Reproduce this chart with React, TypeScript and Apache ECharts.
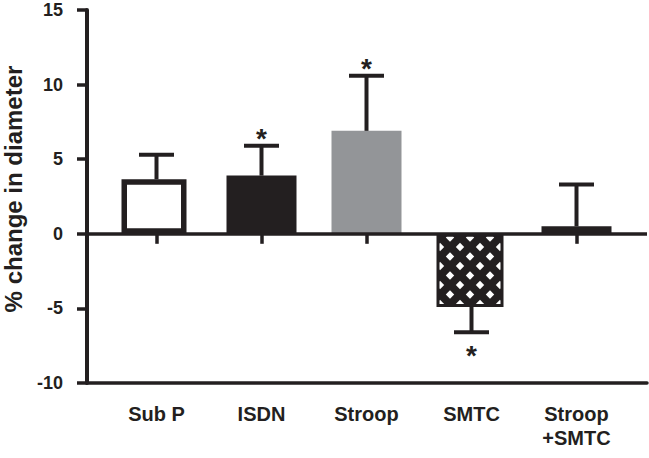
import React, { useEffect, useRef } from "react";
import * as echarts from "echarts";

const categories = ["Sub P", "ISDN", "Stroop", "SMTC", "Stroop\n+SMTC"];
const means = [3.65, 3.9, 6.9, -4.9, 0.5];
const errors = [1.65, 2.0, 3.7, 1.7, 2.8];
const significant = [false, true, true, true, false];
const yTicks = [-10, -5, 0, 5, 10, 15];

const INK = "#231f20";
const FONT = "'Liberation Sans', Arial, Helvetica, sans-serif";

const tileSvg =
  "<svg xmlns='http://www.w3.org/2000/svg' width='20' height='19'>" +
  "<rect width='20' height='19' fill='#231f20'/>" +
  "<g fill='#ffffff'>" +
  "<polygon points='10,5.3 14.2,9.5 10,13.7 5.8,9.5'/>" +
  "<polygon points='0,-4.2 4.2,0 0,4.2 -4.2,0'/>" +
  "<polygon points='20,-4.2 24.2,0 20,4.2 15.8,0'/>" +
  "<polygon points='0,14.8 4.2,19 0,23.2 -4.2,19'/>" +
  "<polygon points='20,14.8 24.2,19 20,23.2 15.8,19'/>" +
  "</g></svg>";
const tileUrl = "data:image/svg+xml;charset=utf-8," + encodeURIComponent(tileSvg);

export default function App() {
  const ref = useRef<HTMLDivElement>(null);
  useEffect(() => {
    if (!ref.current) return;
    const chart = echarts.init(ref.current, null, { renderer: "svg" });

    const barStyles: any[] = [
      { color: "#ffffff", borderColor: INK, borderWidth: 5.5 },
      { color: INK },
      { color: "#939598" },
      {
        color: { image: tileUrl, repeat: "repeat", imageWidth: 20, imageHeight: 19 },
        borderColor: INK,
        borderWidth: 3,
      },
      { color: INK },
    ];
    const barWidths = [65, 70, 70, 67, 70];

    const barSeries = categories.map((c, i) => ({
      type: "bar",
      name: c,
      xAxisIndex: 0,
      yAxisIndex: 0,
      barWidth: barWidths[i],
      barGap: "-100%",
      itemStyle: barStyles[i],
      data: means.map((v, j) => (j === i ? v : "-")),
      z: 2,
    }));

    const option: any = {
      animation: false,
      backgroundColor: "#ffffff",
      grid: [
        { left: 104, right: 20, top: 10, bottom: 75 },
        { left: 87, right: 2, top: 10, bottom: 75 },
      ],
      xAxis: [
        {
          type: "category",
          gridIndex: 0,
          data: categories,
          axisLine: { show: false },
          axisTick: { show: true, alignWithLabel: true, length: 10, lineStyle: { color: INK, width: 3.5 } },
          axisLabel: {
            color: INK,
            fontSize: 20,
            fontWeight: "bold",
            fontFamily: FONT,
            margin: 19,
            lineHeight: 24,
            interval: 0,
          },
        },
        {
          type: "value",
          gridIndex: 1,
          min: 0,
          max: 1,
          axisLine: { show: true, onZero: false, lineStyle: { color: INK, width: 3.5 } },
          axisTick: { show: false },
          axisLabel: { show: false },
          splitLine: { show: false },
        },
      ],
      yAxis: [
        {
          type: "value",
          gridIndex: 0,
          min: -10,
          max: 15,
          show: false,
        },
        {
          type: "value",
          gridIndex: 1,
          min: -10,
          max: 15,
          interval: 5,
          axisLine: { show: true, lineStyle: { color: INK, width: 4 } },
          axisTick: { show: true, length: 10, lineStyle: { color: INK, width: 3.5 } },
          axisLabel: {
            color: INK,
            fontSize: 18,
            fontWeight: "bold",
            fontFamily: FONT,
            margin: 24,
            customValues: yTicks,
          },
          splitLine: { show: false },
        },
      ],
      series: [
        {
          type: "line",
          xAxisIndex: 1,
          yAxisIndex: 1,
          data: [],
          silent: true,
          markLine: {
            silent: true,
            symbol: ["none", "none"],
            label: { show: false },
            lineStyle: { color: INK, width: 3.5, type: "solid" },
            data: [{ yAxis: 0 }],
          },
        },
        ...barSeries,
        {
          type: "custom",
          xAxisIndex: 0,
          yAxisIndex: 0,
          z: 3,
          data: means.map((m, i) => [i, m, errors[i], significant[i] ? 1 : 0]),
          renderItem: (params: any, api: any) => {
            const x = api.value(0);
            const m = api.value(1);
            const e = api.value(2);
            const sig = api.value(3);
            const end = m >= 0 ? m + e : m - e;
            const p0 = api.coord([x, m]);
            const p1 = api.coord([x, end]);
            const half = 17.5;
            const children: any[] = [
              {
                type: "line",
                shape: { x1: p0[0], y1: p0[1], x2: p1[0], y2: p1[1] },
                style: { stroke: INK, lineWidth: 4 },
              },
              {
                type: "line",
                shape: { x1: p1[0] - half, y1: p1[1], x2: p1[0] + half, y2: p1[1] },
                style: { stroke: INK, lineWidth: 4 },
              },
            ];
            if (sig) {
              const above = m >= 0;
              children.push({
                type: "text",
                x: p1[0],
                y: above ? p1[1] - 7 : p1[1] + 23,
                style: {
                  text: "*",
                  fill: INK,
                  font: `bold 28px ${FONT}`,
                  align: "center",
                  verticalAlign: "middle",
                },
              });
            }
            return { type: "group", children };
          },
        },
      ],
      graphic: [
        {
          type: "text",
          x: 13,
          y: 189,
          rotation: Math.PI / 2,
          style: {
            text: "% change in diameter",
            fill: INK,
            font: `bold 24px ${FONT}`,
            align: "center",
            verticalAlign: "middle",
          },
        },
      ],
    };
    chart.setOption(option);
    return () => chart.dispose();
  }, []);
  return <div ref={ref} style={{ width: 649, height: 458, position: "absolute", left: 0, top: 0 }} />;
}
